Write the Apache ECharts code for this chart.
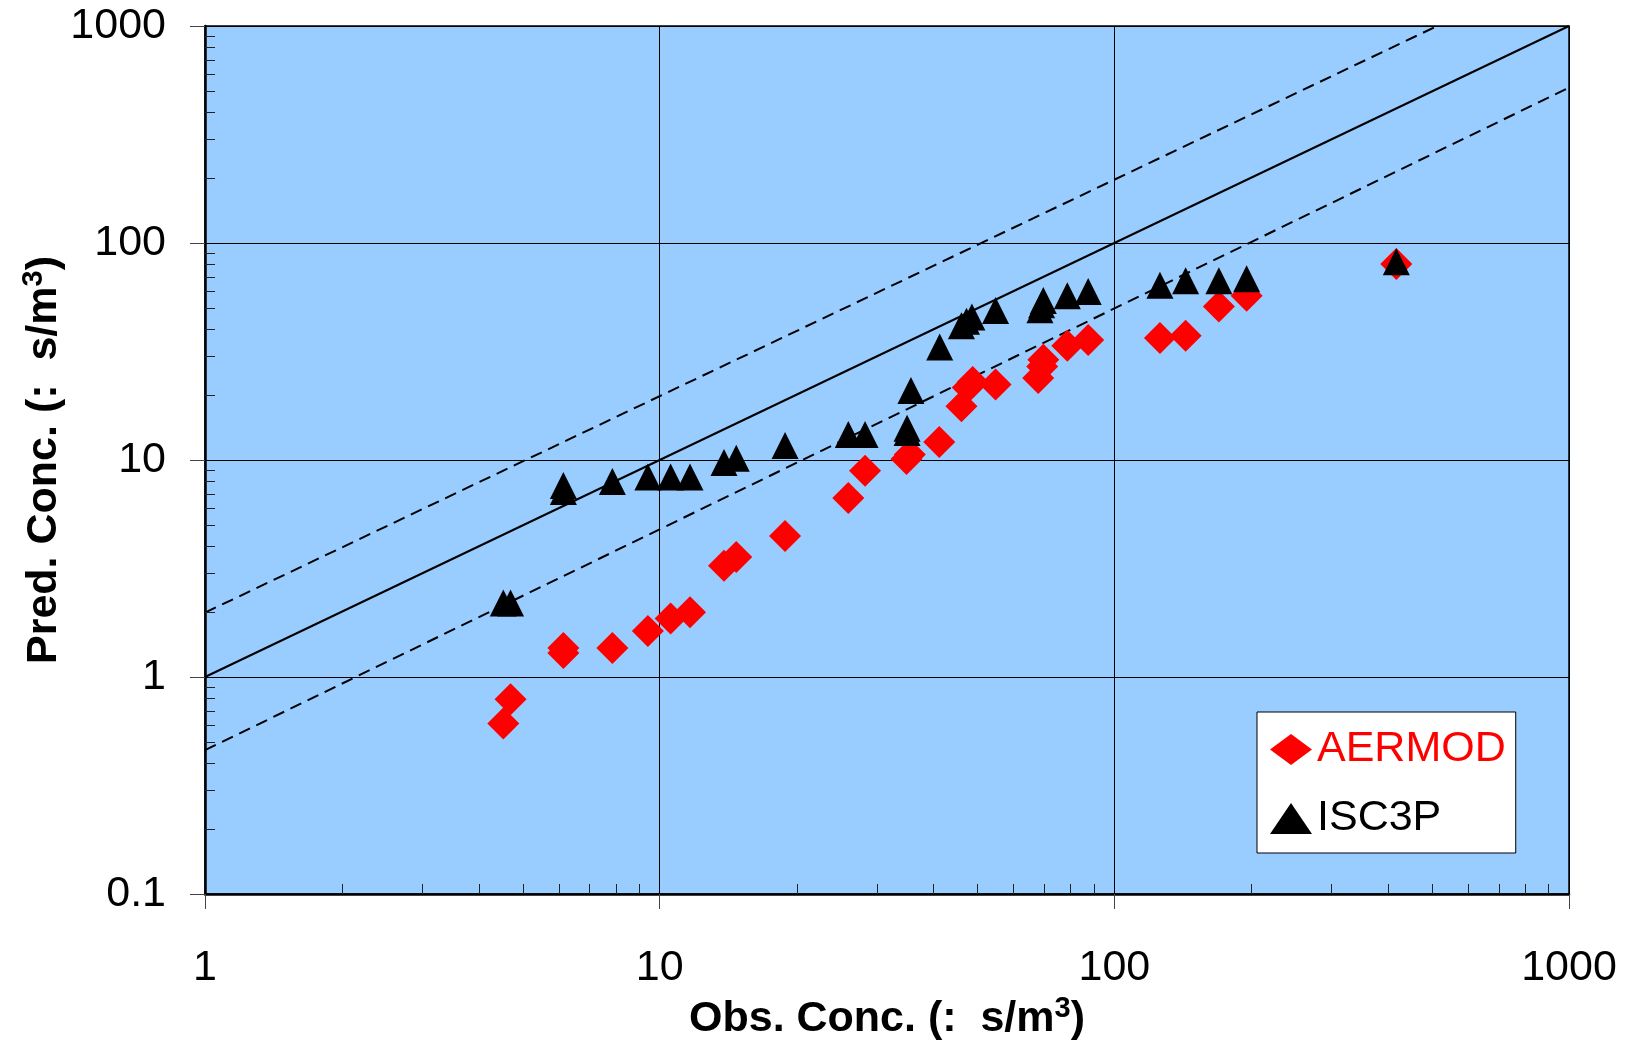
<!DOCTYPE html>
<html>
<head>
<meta charset="utf-8">
<script src="https://cdn.jsdelivr.net/npm/echarts@6/dist/echarts.min.js"></script>
<style>
html, body { margin: 0; padding: 0; background: #ffffff; }
#chart { width: 1629px; height: 1048px; }
</style>
</head>
<body>
<div id="chart"></div>
<script>
// Observed vs. predicted concentrations for the two dispersion models.
const aermodObs  = [4.53, 4.70, 6.14, 6.14, 7.87, 9.42, 10.57, 11.66, 13.85, 14.74, 18.87, 26.0, 28.3, 34.9, 35.5, 41.2, 46.1, 47.6, 48.8, 54.8, 68.0, 69.4, 69.8, 78.8, 87.6, 126, 143.5, 169.8, 195.4, 417];
const aermodPred = [0.61, 0.79, 1.36, 1.29, 1.36, 1.63, 1.86, 1.99, 3.26, 3.57, 4.47, 6.68, 8.93, 10.1, 10.6, 12.1, 17.7, 21.6, 22.9, 22.3, 23.9, 27.0, 29.0, 33.6, 35.7, 36.5, 37.4, 51.0, 57.2, 80.0];

const isc3pObs  = [4.53, 4.70, 6.14, 6.14, 7.87, 9.42, 10.57, 11.66, 13.85, 14.74, 18.87, 26.0, 28.3, 35.0, 35.0, 35.7, 41.3, 46.1, 47.3, 48.6, 54.8, 68.6, 69.2, 69.8, 78.8, 87.6, 126, 143.5, 169.8, 195.4, 417];
const isc3pPred = [2.19, 2.19, 7.62, 7.16, 7.96, 8.35, 8.35, 8.35, 9.75, 10.2, 11.67, 13.1, 13.1, 13.4, 14.0, 20.9, 33.2, 41.6, 43.6, 45.6, 48.9, 49.3, 52.0, 54.4, 57.2, 59.8, 63.8, 67.0, 67.0, 68.4, 82.0];

// 1:1 line and factor-of-two envelope
const oneToOneObs  = [1, 1000];
const oneToOnePred = [1, 1000];
const upperObs  = [1, 513];
const upperPred = [1.98, 1000];
const lowerObs  = [1, 1000];
const lowerPred = [0.46, 520];

const xTickLabels = ['1', '10', '100', '1000'];
const yTickLabels = ['0.1', '1', '10', '100', '1000'];
const xDecades = [1, 10, 100];
const yDecades = [0.1, 1, 10, 100];
const minorSteps = [2, 3, 4, 5, 6, 7, 8, 9];

const FONT = '"Liberation Sans", Arial, Helvetica, sans-serif';

function zip(xs, ys) { return xs.map((x, i) => [x, ys[i]]); }
function minorValues(decades) {
  const out = [];
  decades.forEach(d => minorSteps.forEach(s => out.push(+(d * s).toPrecision(6))));
  return out;
}
function labelFor(list) {
  return function (v) {
    const hit = list.find(l => Math.abs(Math.log10(+l) - Math.log10(v)) < 1e-6);
    return hit === undefined ? '' : hit;
  };
}

const xMinor = minorValues(xDecades).map(v => [v, 0.1]);
const yMinor = minorValues(yDecades).map(v => [1, v]);

// Axis titles with a raised "3" for m³
const titleRich = {
  t: { fontFamily: FONT, fontSize: 43, fontWeight: 'bold', color: '#000', lineHeight: 50 },
  s: { fontFamily: FONT, fontSize: 29, fontWeight: 'bold', color: '#000', lineHeight: 28, verticalAlign: 'top' }
};

const chart = echarts.init(document.getElementById('chart'), null, { renderer: 'canvas' });

const option = {
  animation: false,
  textStyle: { fontFamily: FONT },
  grid: {
    show: true,
    left: 205, top: 26, width: 1364, height: 868,
    backgroundColor: '#99CCFF',
    borderColor: '#000000',
    borderWidth: 1.5
  },
  legend: {
    orient: 'vertical',
    left: 1257, top: 712,
    backgroundColor: '#ffffff',
    borderColor: '#000000',
    borderWidth: 1,
    borderRadius: 0,
    padding: [16, 10, 13, 13],
    itemGap: 26,
    itemWidth: 42,
    itemHeight: 31,
    textStyle: { fontFamily: FONT, fontSize: 43 },
    data: [
      { name: 'AERMOD', textStyle: { color: '#ff0000' } },
      { name: 'ISC3P', textStyle: { color: '#000000' } }
    ]
  },
  xAxis: {
    type: 'log', logBase: 10, min: 1, max: 1000,
    name: '{t|Obs. Conc. (:  s/m}{s|3}{t|)}',
    nameLocation: 'middle', nameGap: 100, nameMoveOverlap: false,
    nameTextStyle: { rich: titleRich },
    axisLine: { show: true, onZero: false, lineStyle: { color: '#000', width: 2.5 } },
    axisTick: { show: true, inside: false, length: 15, lineStyle: { color: '#444', width: 1 } },
    axisLabel: { margin: 53, fontFamily: FONT, fontSize: 43, color: '#000', formatter: labelFor(xTickLabels), showMinLabel: true, showMaxLabel: true },
    splitLine: { show: true, lineStyle: { color: '#000', width: 1 } },
    minorTick: { show: false }, minorSplitLine: { show: false }
  },
  yAxis: {
    type: 'log', logBase: 10, min: 0.1, max: 1000,
    name: '{t|Pred. Conc. (:  s/m}{s|3}{t|)}',
    nameLocation: 'middle', nameGap: 136, nameRotate: 90, nameMoveOverlap: false,
    nameTextStyle: { rich: titleRich },
    axisLine: { show: true, onZero: false, lineStyle: { color: '#000', width: 2.5 } },
    axisTick: { show: true, inside: false, length: 15, lineStyle: { color: '#444', width: 1 } },
    axisLabel: { margin: 39, fontFamily: FONT, fontSize: 43, color: '#000', formatter: labelFor(yTickLabels), showMinLabel: true, showMaxLabel: true },
    splitLine: { show: true, lineStyle: { color: '#000', width: 1 } },
    minorTick: { show: false }, minorSplitLine: { show: false }
  },
  series: [
    {
      name: '1:1', type: 'line', data: zip(oneToOneObs, oneToOnePred),
      symbol: 'none', silent: true, z: 2,
      lineStyle: { color: '#000', width: 2 }
    },
    {
      name: 'x2', type: 'line', data: zip(upperObs, upperPred),
      symbol: 'none', silent: true, z: 2,
      lineStyle: { color: '#000', width: 2, type: [12, 7] }
    },
    {
      name: 'x0.5', type: 'line', data: zip(lowerObs, lowerPred),
      symbol: 'none', silent: true, z: 2,
      lineStyle: { color: '#000', width: 2, type: [12, 7] }
    },
    {
      name: 'xMinorTicks', type: 'custom', data: xMinor, silent: true, z: 5, clip: false,
      encode: { x: 0, y: 1 },
      renderItem: function (params, api) {
        const p = api.coord([api.value(0), api.value(1)]);
        const x = Math.round(p[0]) + 0.5;
        return { type: 'line', shape: { x1: x, y1: p[1], x2: x, y2: p[1] - 10 }, style: { stroke: '#222', lineWidth: 1 } };
      }
    },
    {
      name: 'yMinorTicks', type: 'custom', data: yMinor, silent: true, z: 5, clip: false,
      encode: { x: 0, y: 1 },
      renderItem: function (params, api) {
        const p = api.coord([api.value(0), api.value(1)]);
        const y = Math.round(p[1]) + 0.5;
        return { type: 'line', shape: { x1: p[0], y1: y, x2: p[0] + 10, y2: y }, style: { stroke: '#222', lineWidth: 1 } };
      }
    },
    {
      name: 'AERMOD', type: 'scatter', data: zip(aermodObs, aermodPred),
      symbol: 'diamond', symbolSize: 32, z: 3,
      itemStyle: { color: '#ff0000', opacity: 1 }
    },
    {
      name: 'ISC3P', type: 'scatter', data: zip(isc3pObs, isc3pPred),
      symbol: 'triangle', symbolSize: 27, z: 3,
      itemStyle: { color: '#000000', opacity: 1 }
    }
  ]
};

chart.setOption(option);
</script>
</body>
</html>
